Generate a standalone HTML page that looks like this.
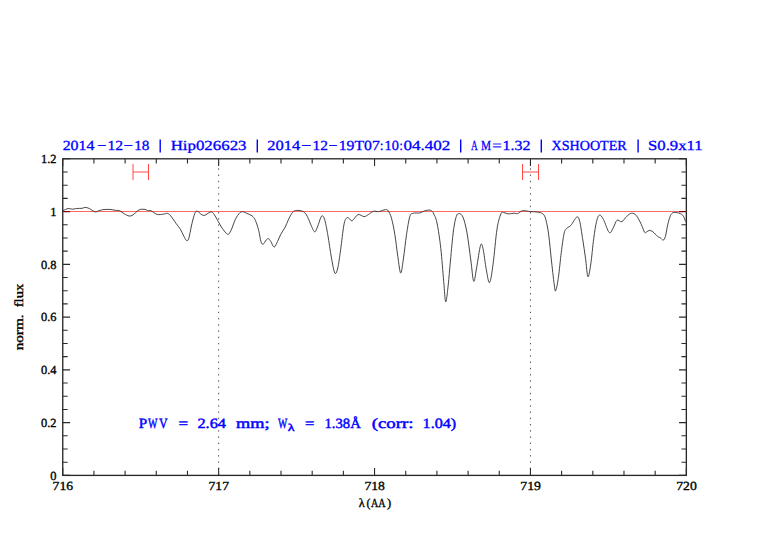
<!DOCTYPE html>
<html><head><meta charset="utf-8"><style>
html,body{margin:0;padding:0;background:#fff;width:782px;height:542px;overflow:hidden}
svg{display:block}
text{font-family:"Liberation Serif",serif;text-rendering:geometricPrecision}
</style></head><body>
<svg width="782" height="542" viewBox="0 0 782 542">
<rect width="782" height="542" fill="#fff"/>
<g fill="#0000ff" stroke="#0000ff" stroke-width="0.3"><text x="62.65" y="149.9" font-size="13.9" textLength="31.75" lengthAdjust="spacingAndGlyphs">2014</text><text x="97.25" y="149.9" font-size="13.9" textLength="9.09" lengthAdjust="spacingAndGlyphs">−</text><text x="107.48" y="149.9" font-size="13.9" textLength="15.64" lengthAdjust="spacingAndGlyphs">12</text><text x="123.62" y="149.9" font-size="13.9" textLength="9.45" lengthAdjust="spacingAndGlyphs">−</text><text x="134.21" y="149.9" font-size="13.9" textLength="15.22" lengthAdjust="spacingAndGlyphs">18</text><text x="170.66" y="149.9" font-size="13.9" textLength="75.84" lengthAdjust="spacingAndGlyphs">Hip026623</text><text x="267.33" y="149.9" font-size="13.9" textLength="32.98" lengthAdjust="spacingAndGlyphs">2014</text><text x="301.36" y="149.9" font-size="13.9" textLength="10.06" lengthAdjust="spacingAndGlyphs">−</text><text x="312.60" y="149.9" font-size="13.9" textLength="15.40" lengthAdjust="spacingAndGlyphs">12</text><text x="328.56" y="149.9" font-size="13.9" textLength="8.97" lengthAdjust="spacingAndGlyphs">−</text><text x="338.77" y="149.9" font-size="13.9" textLength="41.03" lengthAdjust="spacingAndGlyphs">19T07</text><text x="379.87" y="149.9" font-size="13.9" textLength="3.78" lengthAdjust="spacingAndGlyphs">:</text><text x="384.49" y="149.9" font-size="13.9" textLength="14.30" lengthAdjust="spacingAndGlyphs">10</text><text x="399.61" y="149.9" font-size="13.9" textLength="3.31" lengthAdjust="spacingAndGlyphs">:</text><text x="403.40" y="149.9" font-size="13.9" textLength="46.79" lengthAdjust="spacingAndGlyphs">04.402</text><text x="471.06" y="149.9" font-size="13.9" textLength="6.76" lengthAdjust="spacingAndGlyphs">A</text><text x="481.12" y="149.9" font-size="13.9" textLength="10.06" lengthAdjust="spacingAndGlyphs">M</text><text x="492.32" y="149.9" font-size="13.9" textLength="9.45" lengthAdjust="spacingAndGlyphs">=</text><text x="502.64" y="149.9" font-size="13.9" textLength="27.99" lengthAdjust="spacingAndGlyphs">1.32</text><text x="551.54" y="149.9" font-size="13.9" textLength="75.23" lengthAdjust="spacingAndGlyphs">XSHOOTER</text><text x="648.05" y="149.9" font-size="13.9" textLength="54.60" lengthAdjust="spacingAndGlyphs">S0.9x11</text></g>
<path d="M160.2,139.6V152.4M257.3,139.6V152.4M460.7,139.6V152.4M541.3,139.6V152.4M638.1,139.6V152.4" stroke="#0000ff" stroke-width="1.4" fill="none"/>
<g stroke="#505050" stroke-width="1" stroke-dasharray="1.4 4.835" stroke-dashoffset="2.935" fill="none">
<path d="M218.65,158.8V475.4M530.45,158.8V475.4"/>
</g>
<path d="M62.75,211.57H686.35" stroke="#ff6868" stroke-width="1.1" fill="none"/>
<g stroke="#ff4848" stroke-width="1" fill="none">
<path d="M133,164V180M133,172H148.5M148.5,164V180"/>
<path d="M522.5,164V180M522.5,172H538.5M538.5,164V180"/>
</g>
<path d="M62.50,210.80 C62.63,210.75 62.33,210.88 63.30,210.50 C64.27,210.12 66.82,208.72 68.30,208.50 C69.78,208.28 70.82,209.20 72.20,209.20 C73.58,209.20 74.95,208.65 76.60,208.50 C78.25,208.35 80.67,208.48 82.10,208.30 C83.53,208.12 84.00,207.37 85.20,207.40 C86.40,207.43 87.70,207.77 89.30,208.50 C90.90,209.23 93.32,211.38 94.80,211.80 C96.28,212.22 96.90,211.35 98.20,211.00 C99.50,210.65 100.67,209.97 102.60,209.70 C104.53,209.43 107.68,209.30 109.80,209.40 C111.92,209.50 113.65,210.08 115.30,210.30 C116.95,210.52 118.22,210.12 119.70,210.70 C121.18,211.28 122.63,212.92 124.20,213.80 C125.77,214.68 127.63,215.82 129.10,216.00 C130.57,216.18 131.62,215.73 133.00,214.90 C134.38,214.07 136.15,211.92 137.40,211.00 C138.65,210.08 139.23,209.67 140.50,209.40 C141.77,209.13 143.80,209.22 145.00,209.40 C146.20,209.58 146.70,210.27 147.70,210.50 C148.70,210.73 149.43,210.15 151.00,210.80 C152.57,211.45 154.97,213.85 157.10,214.40 C159.23,214.95 162.13,214.28 163.80,214.10 C165.47,213.92 166.00,213.07 167.10,213.30 C168.20,213.53 168.93,213.85 170.40,215.50 C171.87,217.15 174.23,220.90 175.90,223.20 C177.57,225.50 179.10,227.18 180.40,229.30 C181.70,231.42 182.70,234.05 183.70,235.90 C184.70,237.75 185.57,239.93 186.40,240.40 C187.23,240.87 187.87,241.10 188.70,238.70 C189.53,236.30 190.58,229.60 191.40,226.00 C192.22,222.40 192.87,219.50 193.60,217.10 C194.33,214.70 195.07,212.52 195.80,211.60 C196.53,210.68 196.70,210.95 198.00,211.60 C199.30,212.25 201.57,215.42 203.60,215.50 C205.63,215.58 208.58,212.47 210.20,212.10 C211.82,211.73 211.95,211.73 213.30,213.30 C214.65,214.87 216.82,219.02 218.30,221.50 C219.78,223.98 220.63,226.07 222.20,228.20 C223.77,230.33 226.23,233.93 227.70,234.30 C229.17,234.67 229.72,232.90 231.00,230.40 C232.28,227.90 233.92,222.25 235.40,219.30 C236.88,216.35 238.60,213.95 239.90,212.70 C241.20,211.45 242.10,211.70 243.20,211.80 C244.30,211.90 245.03,212.63 246.50,213.30 C247.97,213.97 250.52,214.62 252.00,215.80 C253.48,216.98 254.28,217.97 255.40,220.40 C256.52,222.83 257.78,226.88 258.70,230.40 C259.62,233.92 260.17,239.20 260.90,241.50 C261.63,243.80 262.18,244.48 263.10,244.20 C264.02,243.92 265.48,240.72 266.40,239.80 C267.32,238.88 267.87,238.42 268.60,238.70 C269.33,238.98 269.87,240.12 270.80,241.50 C271.73,242.88 273.08,247.00 274.20,247.00 C275.32,247.00 276.40,243.62 277.50,241.50 C278.60,239.38 279.52,236.70 280.80,234.30 C282.08,231.90 283.95,229.50 285.20,227.10 C286.45,224.70 287.08,222.35 288.30,219.90 C289.52,217.45 291.12,213.98 292.50,212.40 C293.88,210.82 294.80,210.53 296.60,210.40 C298.40,210.27 301.50,210.57 303.30,211.60 C305.10,212.63 306.02,214.12 307.40,216.60 C308.78,219.08 310.35,223.97 311.60,226.50 C312.85,229.03 313.80,232.07 314.90,231.80 C316.00,231.53 317.10,227.50 318.20,224.90 C319.30,222.30 320.45,217.17 321.50,216.20 C322.55,215.23 323.45,216.00 324.50,219.10 C325.55,222.20 326.63,228.30 327.80,234.80 C328.97,241.30 330.33,251.73 331.50,258.10 C332.67,264.47 333.75,271.35 334.80,273.00 C335.85,274.65 336.83,271.87 337.80,268.00 C338.77,264.13 339.58,256.98 340.60,249.80 C341.62,242.62 342.93,230.17 343.90,224.90 C344.87,219.63 345.57,219.32 346.40,218.20 C347.23,217.08 347.93,217.78 348.90,218.20 C349.87,218.62 350.68,221.30 352.20,220.70 C353.72,220.10 356.02,215.28 358.00,214.60 C359.98,213.92 362.38,216.60 364.10,216.60 C365.82,216.60 366.77,215.48 368.30,214.60 C369.83,213.72 371.63,211.80 373.30,211.30 C374.97,210.80 376.92,211.68 378.30,211.60 C379.68,211.52 380.37,211.13 381.60,210.80 C382.83,210.47 384.60,209.60 385.70,209.60 C386.80,209.60 387.23,209.37 388.20,210.80 C389.17,212.23 390.38,214.20 391.50,218.20 C392.62,222.20 393.85,228.43 394.90,234.80 C395.95,241.17 396.83,250.03 397.80,256.40 C398.77,262.77 399.75,272.72 400.70,273.00 C401.65,273.28 402.53,264.47 403.50,258.10 C404.47,251.73 405.45,241.72 406.50,234.80 C407.55,227.88 408.70,220.18 409.80,216.60 C410.90,213.02 411.43,213.92 413.10,213.30 C414.77,212.68 417.87,213.32 419.80,212.90 C421.73,212.48 422.92,211.23 424.70,210.80 C426.48,210.37 428.97,209.75 430.50,210.30 C432.03,210.85 432.78,211.82 433.90,214.10 C435.02,216.38 436.05,218.28 437.20,224.00 C438.35,229.72 439.72,238.83 440.80,248.40 C441.88,257.97 442.88,272.50 443.70,281.40 C444.52,290.30 444.95,301.17 445.70,301.80 C446.45,302.43 447.40,292.17 448.20,285.20 C449.00,278.23 449.63,269.03 450.50,260.00 C451.37,250.97 452.43,238.25 453.40,231.00 C454.37,223.75 455.33,219.40 456.30,216.50 C457.27,213.60 458.07,213.45 459.20,213.60 C460.33,213.75 461.80,214.18 463.10,217.40 C464.40,220.62 465.72,225.80 467.00,232.90 C468.28,240.00 469.68,251.93 470.80,260.00 C471.92,268.07 472.73,280.00 473.70,281.30 C474.67,282.60 475.47,273.77 476.60,267.80 C477.73,261.83 479.43,248.73 480.50,245.50 C481.57,242.27 482.03,244.37 483.00,248.40 C483.97,252.43 485.20,264.00 486.30,269.70 C487.40,275.40 488.47,283.57 489.60,282.60 C490.73,281.63 491.87,272.82 493.10,263.90 C494.33,254.98 495.70,237.43 497.00,229.10 C498.30,220.77 499.77,216.65 500.90,213.90 C502.03,211.15 502.52,212.60 503.80,212.60 C505.08,212.60 506.92,213.80 508.60,213.90 C510.28,214.00 512.38,213.25 513.90,213.20 C515.42,213.15 516.25,214.02 517.70,213.60 C519.15,213.18 520.50,211.03 522.60,210.70 C524.70,210.37 527.88,211.38 530.30,211.60 C532.72,211.82 535.00,211.62 537.10,212.00 C539.20,212.38 541.45,212.67 542.90,213.90 C544.35,215.13 544.83,215.90 545.80,219.40 C546.77,222.90 547.73,227.80 548.70,234.90 C549.67,242.00 550.62,253.28 551.60,262.00 C552.58,270.72 553.88,282.52 554.60,287.20 C555.32,291.88 555.27,291.72 555.90,290.10 C556.53,288.48 557.50,283.80 558.40,277.50 C559.30,271.20 560.33,259.73 561.30,252.30 C562.27,244.87 563.23,236.93 564.20,232.90 C565.17,228.87 565.97,229.38 567.10,228.10 C568.23,226.82 569.38,227.05 571.00,225.20 C572.62,223.35 575.35,217.65 576.80,217.00 C578.25,216.35 578.73,217.68 579.70,221.30 C580.67,224.92 581.63,232.57 582.60,238.70 C583.57,244.83 584.62,251.77 585.50,258.10 C586.38,264.43 587.02,275.73 587.90,276.70 C588.78,277.67 589.83,270.23 590.80,263.90 C591.77,257.57 592.73,245.80 593.70,238.70 C594.67,231.60 595.63,225.23 596.60,221.30 C597.57,217.37 598.37,215.42 599.50,215.10 C600.63,214.78 601.78,216.50 603.40,219.40 C605.02,222.30 607.58,231.05 609.20,232.50 C610.82,233.95 611.80,230.13 613.10,228.10 C614.40,226.07 615.55,221.37 617.00,220.30 C618.45,219.23 620.20,222.33 621.80,221.70 C623.40,221.07 624.98,217.92 626.60,216.50 C628.22,215.08 629.88,213.37 631.50,213.20 C633.12,213.03 634.68,213.67 636.30,215.50 C637.92,217.33 639.82,221.40 641.20,224.20 C642.58,227.00 643.65,231.03 644.60,232.30 C645.55,233.57 646.13,232.12 646.90,231.80 C647.67,231.48 648.20,230.40 649.20,230.40 C650.20,230.40 651.52,230.80 652.90,231.80 C654.28,232.80 656.27,235.40 657.50,236.40 C658.73,237.40 659.37,237.18 660.30,237.80 C661.23,238.42 662.25,240.33 663.10,240.10 C663.95,239.87 664.63,238.93 665.40,236.40 C666.17,233.87 666.87,228.35 667.70,224.90 C668.53,221.45 669.48,217.75 670.40,215.70 C671.32,213.65 672.12,213.12 673.20,212.60 C674.28,212.08 675.67,212.40 676.90,212.60 C678.13,212.80 679.52,213.22 680.60,213.80 C681.68,214.38 682.55,214.78 683.40,216.10 C684.25,217.42 685.32,220.77 685.70,221.70" stroke="#3c3c3c" stroke-width="0.95" fill="none" stroke-linejoin="round"/>
<g stroke="#2a2a2a" fill="none">
<path d="M62.75,475.4v-7.3M62.75,158.8v7.3M93.93,475.4v-4.7M93.93,158.8v4.7M125.11,475.4v-4.7M125.11,158.8v4.7M156.29,475.4v-4.7M156.29,158.8v4.7M187.47,475.4v-4.7M187.47,158.8v4.7M218.65,475.4v-7.3M218.65,158.8v7.3M249.83,475.4v-4.7M249.83,158.8v4.7M281.01,475.4v-4.7M281.01,158.8v4.7M312.19,475.4v-4.7M312.19,158.8v4.7M343.37,475.4v-4.7M343.37,158.8v4.7M374.55,475.4v-7.3M374.55,158.8v7.3M405.73,475.4v-4.7M405.73,158.8v4.7M436.91,475.4v-4.7M436.91,158.8v4.7M468.09,475.4v-4.7M468.09,158.8v4.7M499.27,475.4v-4.7M499.27,158.8v4.7M530.45,475.4v-7.3M530.45,158.8v7.3M561.63,475.4v-4.7M561.63,158.8v4.7M592.81,475.4v-4.7M592.81,158.8v4.7M623.99,475.4v-4.7M623.99,158.8v4.7M655.17,475.4v-4.7M655.17,158.8v4.7M686.35,475.4v-7.3M686.35,158.8v7.3M62.75,475.40h7.3M686.35,475.40h-7.3M62.75,462.21h4.9M686.35,462.21h-4.9M62.75,449.02h4.9M686.35,449.02h-4.9M62.75,435.82h4.9M686.35,435.82h-4.9M62.75,422.63h7.3M686.35,422.63h-7.3M62.75,409.44h4.9M686.35,409.44h-4.9M62.75,396.25h4.9M686.35,396.25h-4.9M62.75,383.06h4.9M686.35,383.06h-4.9M62.75,369.87h7.3M686.35,369.87h-7.3M62.75,356.67h4.9M686.35,356.67h-4.9M62.75,343.48h4.9M686.35,343.48h-4.9M62.75,330.29h4.9M686.35,330.29h-4.9M62.75,317.10h7.3M686.35,317.10h-7.3M62.75,303.91h4.9M686.35,303.91h-4.9M62.75,290.72h4.9M686.35,290.72h-4.9M62.75,277.52h4.9M686.35,277.52h-4.9M62.75,264.33h7.3M686.35,264.33h-7.3M62.75,251.14h4.9M686.35,251.14h-4.9M62.75,237.95h4.9M686.35,237.95h-4.9M62.75,224.76h4.9M686.35,224.76h-4.9M62.75,198.38h4.9M686.35,198.38h-4.9M62.75,185.18h4.9M686.35,185.18h-4.9M62.75,171.99h4.9M686.35,171.99h-4.9M62.75,158.80h7.3M686.35,158.80h-7.3" stroke-width="1.1"/>
<rect x="62.75" y="158.8" width="623.60" height="316.60" stroke-width="1.35"/>
</g>
<path d="M63.35,211.57H70.05M685.75,211.57H679.0500000000001" stroke="#800000" stroke-width="1.2" fill="none"/>
<g fill="#000" stroke="#000" stroke-width="0.35" font-size="12.4"><text x="56.5" y="479.60" text-anchor="end">0</text><text x="56.5" y="426.83" text-anchor="end">0.2</text><text x="56.5" y="374.07" text-anchor="end">0.4</text><text x="56.5" y="321.30" text-anchor="end">0.6</text><text x="56.5" y="268.53" text-anchor="end">0.8</text><text x="56.5" y="215.77" text-anchor="end">1</text><text x="56.5" y="163.00" text-anchor="end">1.2</text><text x="52.63" y="490.2" font-size="12.4" textLength="20.46" lengthAdjust="spacingAndGlyphs">716</text><text x="208.53" y="490.2" font-size="12.4" textLength="20.44" lengthAdjust="spacingAndGlyphs">717</text><text x="364.42" y="490.2" font-size="12.4" textLength="20.58" lengthAdjust="spacingAndGlyphs">718</text><text x="520.32" y="490.2" font-size="12.4" textLength="20.62" lengthAdjust="spacingAndGlyphs">719</text><text x="676.22" y="490.2" font-size="12.4" textLength="20.58" lengthAdjust="spacingAndGlyphs">720</text>
<text x="358.65" y="506.8" font-size="12.4" textLength="5.94" lengthAdjust="spacingAndGlyphs">λ</text><text x="366.45" y="506.8" font-size="12.4" textLength="3.95" lengthAdjust="spacingAndGlyphs">(</text><text x="370.98" y="506.8" font-size="12.4" textLength="14.62" lengthAdjust="spacingAndGlyphs">AA</text><text x="386.97" y="506.8" font-size="12.4" textLength="4.21" lengthAdjust="spacingAndGlyphs">)</text>
<g transform="translate(23.2,0) rotate(-90)"><text x="-350.38" y="0" font-size="12.4" textLength="36.01" lengthAdjust="spacingAndGlyphs">norm.</text><text x="-307.28" y="0" font-size="12.4" textLength="23.58" lengthAdjust="spacingAndGlyphs">flux</text></g>
</g>
<g fill="#0000ff" stroke="#0000ff" stroke-width="0.45"><text x="138.79" y="427.6" font-size="14.2" textLength="8.39" lengthAdjust="spacingAndGlyphs">P</text><text x="147.92" y="427.6" font-size="14.2" textLength="9.48" lengthAdjust="spacingAndGlyphs">W</text><text x="159.09" y="427.6" font-size="14.2" textLength="8.62" lengthAdjust="spacingAndGlyphs">V</text><text x="178.47" y="427.6" font-size="14.2" textLength="9.64" lengthAdjust="spacingAndGlyphs">=</text><text x="197.41" y="427.6" font-size="14.2" textLength="28.52" lengthAdjust="spacingAndGlyphs">2.64</text><text x="236.14" y="427.6" font-size="14.2" textLength="33.54" lengthAdjust="spacingAndGlyphs">mm;</text><text x="277.92" y="427.6" font-size="14.2" textLength="9.28" lengthAdjust="spacingAndGlyphs">W</text><text x="305.00" y="427.6" font-size="14.2" textLength="9.39" lengthAdjust="spacingAndGlyphs">=</text><text x="324.54" y="427.6" font-size="14.2" textLength="36.25" lengthAdjust="spacingAndGlyphs">1.38Å</text><text x="371.70" y="427.6" font-size="14.2" textLength="41.91" lengthAdjust="spacingAndGlyphs">(corr:</text><text x="422.61" y="427.6" font-size="14.2" textLength="33.57" lengthAdjust="spacingAndGlyphs">1.04)</text><text x="287.66" y="430.8" font-size="10.5" textLength="6.79" lengthAdjust="spacingAndGlyphs">λ</text></g>
</svg>
</body></html>
